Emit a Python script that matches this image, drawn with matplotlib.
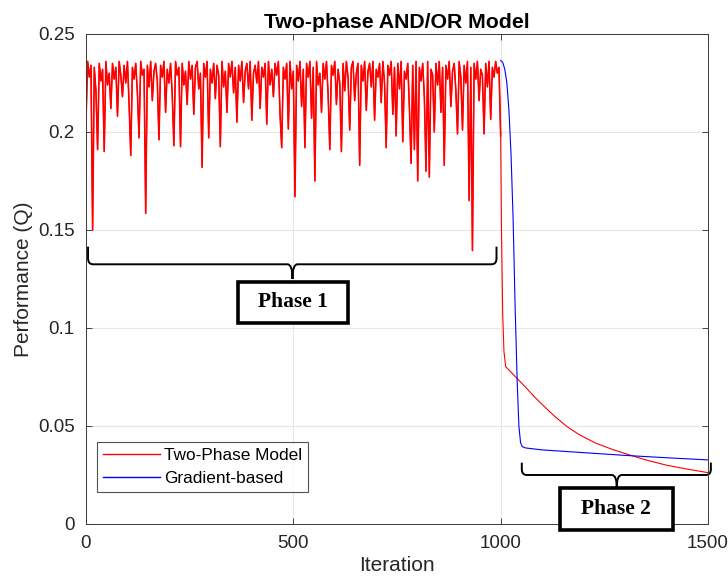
import numpy as np
import matplotlib
matplotlib.use('Agg')
import matplotlib.pyplot as plt
from matplotlib.path import Path
from matplotlib.patches import PathPatch, Rectangle

plt.rcParams['font.family'] = ['Liberation Sans', 'DejaVu Sans']

# phase 1: two-phase model sampled every 4 iterations (0..996)
phase1_step = 4
phase1_q = [
    0.205, 0.236, 0.228, 0.234, 0.150, 0.233, 0.221, 0.191, 0.235, 0.226,
    0.232, 0.190, 0.236, 0.224, 0.230, 0.212, 0.235, 0.227, 0.233, 0.208,
    0.236, 0.229, 0.218, 0.234, 0.225, 0.236, 0.214, 0.188, 0.233, 0.227,
    0.235, 0.220, 0.197, 0.236, 0.229, 0.232, 0.1585, 0.234, 0.223, 0.236,
    0.216, 0.231, 0.235, 0.226, 0.196, 0.234, 0.228, 0.236, 0.210, 0.232,
    0.225, 0.235, 0.219, 0.193, 0.236, 0.229, 0.233, 0.1925, 0.235, 0.224,
    0.231, 0.214, 0.236, 0.227, 0.234, 0.209, 0.233, 0.236, 0.222, 0.230,
    0.182, 0.235, 0.228, 0.236, 0.197, 0.232, 0.225, 0.235, 0.217, 0.234,
    0.229, 0.1925, 0.236, 0.223, 0.231, 0.210, 0.235, 0.228, 0.236, 0.220,
    0.233, 0.205, 0.234, 0.226, 0.236, 0.215, 0.231, 0.235, 0.222, 0.236,
    0.206, 0.230, 0.234, 0.225, 0.236, 0.212, 0.233, 0.228, 0.235, 0.204,
    0.236, 0.224, 0.232, 0.218, 0.235, 0.229, 0.236, 0.209, 0.192, 0.233,
    0.227, 0.235, 0.2015, 0.236, 0.222, 0.231, 0.167, 0.234, 0.226, 0.236,
    0.213, 0.232, 0.192, 0.235, 0.228, 0.236, 0.207, 0.233, 0.175, 0.236,
    0.224, 0.230, 0.210, 0.235, 0.227, 0.236, 0.219, 0.191, 0.234, 0.229,
    0.236, 0.214, 0.232, 0.225, 0.190, 0.235, 0.221, 0.236, 0.228, 0.201,
    0.233, 0.236, 0.216, 0.230, 0.235, 0.183, 0.234, 0.226, 0.236, 0.211,
    0.231, 0.235, 0.223, 0.236, 0.206, 0.232, 0.228, 0.235, 0.215, 0.236,
    0.225, 0.192, 0.234, 0.229, 0.236, 0.209, 0.233, 0.198, 0.235, 0.222,
    0.236, 0.195, 0.231, 0.227, 0.235, 0.212, 0.184, 0.234, 0.191, 0.236,
    0.175, 0.233, 0.226, 0.235, 0.218, 0.180, 0.236, 0.177, 0.232, 0.229,
    0.200, 0.235, 0.224, 0.236, 0.210, 0.233, 0.183, 0.234, 0.227, 0.236,
    0.213, 0.231, 0.235, 0.221, 0.199, 0.236, 0.228, 0.201, 0.234, 0.225,
    0.236, 0.165, 0.233, 0.1395, 0.235, 0.227, 0.236, 0.216, 0.232, 0.229,
    0.199, 0.235, 0.223, 0.236, 0.2065, 0.233, 0.228, 0.236, 0.230, 0.233,
]

# phase 2: two-phase model after iteration 1000
phase2_iter = [1000, 1002, 1005, 1008, 1012, 1025, 1040, 1060, 1080, 1100, 1130,
               1160, 1190, 1230, 1270, 1310, 1350, 1400, 1450, 1500]
phase2_q = [0.198, 0.150, 0.107, 0.088, 0.0803, 0.0775, 0.0742, 0.0698, 0.0652,
            0.0610, 0.0550, 0.0497, 0.0455, 0.0412, 0.0380, 0.0353, 0.0327,
            0.0300, 0.0280, 0.0262]

# gradient-based
grad_iter = [1000, 1005, 1010, 1015, 1020, 1025, 1030, 1035, 1040, 1044, 1048,
             1052, 1060, 1100, 1200, 1300, 1400, 1500]
grad_q = [0.2365, 0.2355, 0.232, 0.225, 0.211, 0.189, 0.156, 0.110, 0.072, 0.050,
          0.0415, 0.0395, 0.0388, 0.0378, 0.0364, 0.0350, 0.0338, 0.0327]

x_ticks = [0, 500, 1000, 1500]
y_ticks = [0, 0.05, 0.1, 0.15, 0.2, 0.25]
y_tick_labels = ['0', '0.05', '0.1', '0.15', '0.2', '0.25']

phase1_x = list(np.arange(len(phase1_q)) * phase1_step)
two_phase_x = phase1_x + phase2_iter
two_phase_y = phase1_q + phase2_q

fig = plt.figure(figsize=(7.28, 5.79), dpi=100)
ax = fig.add_axes([0.1181, 0.0950, 0.8544, 0.8463])

ax.plot(two_phase_x, two_phase_y, color='#ff0000', lw=0.8, label='Two-Phase Model')
# the dense noisy stretch reads heavier in the original
ax.plot(phase1_x + phase2_iter[:1], phase1_q + phase2_q[:1], color='#ff0000', lw=1.15)
ax.plot(grad_iter, grad_q, color='#0000ff', lw=0.8, label='Gradient-based')

ax.set_xlim(0, 1500)
ax.set_ylim(0, 0.25)
ax.set_xticks(x_ticks)
ax.set_yticks(y_ticks)
ax.set_yticklabels(y_tick_labels)
ax.grid(True, color='#e6e6e6', lw=0.8)
ax.set_axisbelow(True)
ax.tick_params(direction='in', top=True, right=True, length=4, width=0.6,
               colors='#262626', labelsize=13.5)
ax.tick_params(axis='x', pad=8)
ax.tick_params(axis='y', pad=8)
for s in ax.spines.values():
    s.set_color('#3a3a3a')
    s.set_linewidth(0.7)

ax.set_title('Two-phase AND/OR Model', fontsize=15.3, fontweight='bold', pad=4)
ax.set_xlabel('Iteration', fontsize=15, color='#262626', labelpad=3)
ax.set_ylabel('Performance (Q)', fontsize=15, color='#262626', labelpad=4)

leg = ax.legend(loc='lower left', bbox_to_anchor=(0.0172, 0.066), fontsize=12.4,
                frameon=True, fancybox=False, edgecolor='#262626',
                handlelength=3.3, borderpad=0.35, labelspacing=0.42,
                handletextpad=0.25, borderaxespad=0)
leg.get_frame().set_linewidth(0.8)
for ln in leg.get_lines():
    ln.set_linewidth(1.0)


def brace(x0, x1, xm, yt, yb, ym, rx, ry):
    verts = [(x0, yt), (x0, yb + ry), (x0, yb), (x0 + rx, yb),
             (xm - rx, yb), (xm, yb), (xm, ym),
             (xm, ym), (xm, yb), (xm + rx, yb),
             (x1 - rx, yb), (x1, yb), (x1, yb + ry), (x1, yt)]
    codes = [Path.MOVETO, Path.LINETO, Path.CURVE3, Path.CURVE3,
             Path.LINETO, Path.CURVE3, Path.CURVE3,
             Path.MOVETO, Path.CURVE3, Path.CURVE3,
             Path.LINETO, Path.CURVE3, Path.CURVE3, Path.LINETO]
    ax.add_patch(PathPatch(Path(verts, codes), fc='none', ec='black',
                           lw=1.4, clip_on=False))


def phase_box(x0, x1, y0, y1, label):
    ax.add_patch(Rectangle((x0, y0), x1 - x0, y1 - y0, fc='white', ec='black',
                           lw=2.6, clip_on=False, zorder=5))
    ax.text((x0 + x1) / 2, (y0 + y1) / 2, label, ha='center', va='center',
            family=['Liberation Serif', 'DejaVu Serif'], fontweight='bold',
            fontsize=15.5, zorder=6, clip_on=False)


brace(5, 990, 498, 0.1415, 0.1325, 0.1250, 12, 0.0030)
phase_box(367, 632, 0.1025, 0.1236, 'Phase 1')

brace(1051, 1507, 1280, 0.0313, 0.0250, 0.0188, 12, 0.0030)
phase_box(1143, 1415, -0.0031, 0.0185, 'Phase 2')

fig.savefig('out.png', dpi=100)
